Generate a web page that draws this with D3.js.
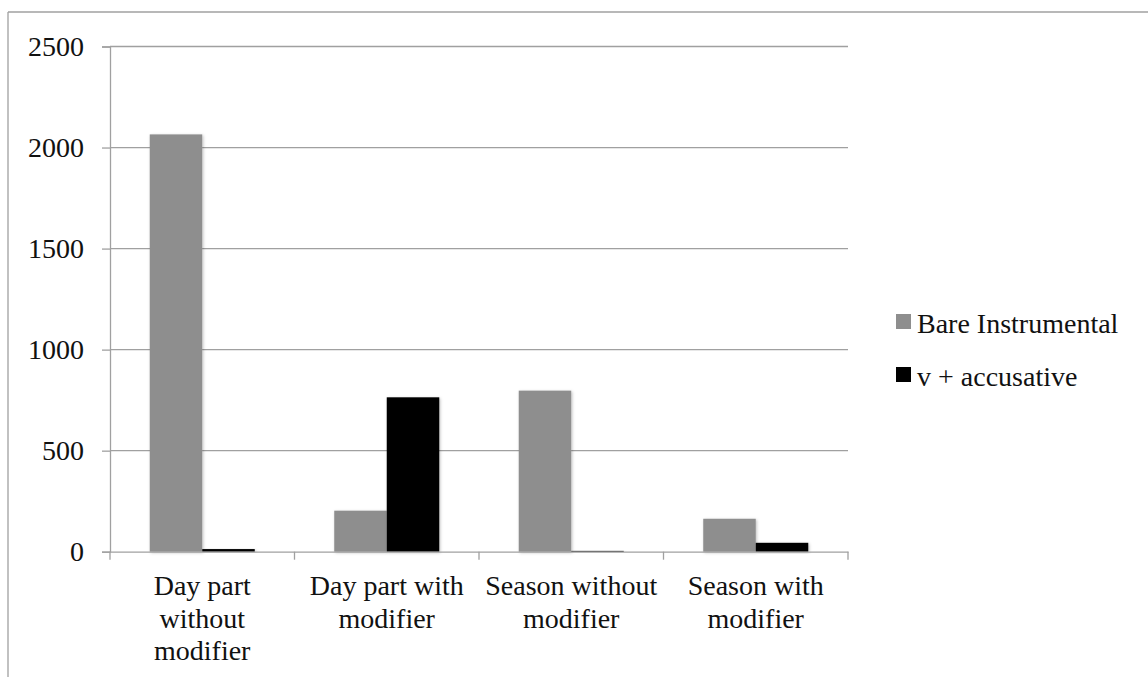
<!DOCTYPE html>
<html>
<head>
<meta charset="utf-8">
<script src="https://cdn.jsdelivr.net/npm/d3@7"></script>
<style>
	html, body
	{
		margin: 0;
		padding: 0;
		background: #ffffff;
	}
</style>
</head>
<body>
<svg id="chart" width="1148" height="677"></svg>
<script>
'use strict';

	// Chart data
	var arrayCategories = ['Day part without modifier','Day part with modifier','Season without modifier','Season with modifier'];
	var arrayCategoryLines = [
		['Day part','without','modifier'],
		['Day part with','modifier'],
		['Season without','modifier'],
		['Season with','modifier']];
	var arraySeries = ['Bare Instrumental','v + accusative'];
	var arrayBareInstrumental = [2065, 203, 797, 163];
	var arrayVAccusative = [13, 764, 4, 44];
	var arrayYTicks = [0, 500, 1000, 1500, 2000, 2500];

	var arrayColors = ['#8e8e8e','#000000'];
	var strLineColor = '#a0a0a0';
	var strFont = '"Liberation Serif", "Times New Roman", serif';
	var strTextColor = '#111111';

	var nLeft = 110;
	var nRight = 848;
	var nTop = 46.5;
	var nBottom = 551.7;

	var svg = d3.select('#chart');

	function StyleText(selection)
	{
		selection
			.style('font-family',strFont)
			.style('font-size','28px')
			.style('fill',strTextColor);
	}

	var defs = svg.append('defs');
	defs.append('filter')
		.attr('id','shadow')
		.attr('x','-20%').attr('y','-20%')
		.attr('width','140%').attr('height','140%')
		.append('feDropShadow')
			.attr('dx',1).attr('dy',1)
			.attr('stdDeviation',1.5)
			.attr('flood-color','#000')
			.attr('flood-opacity',0.25);

	// outer frame (only top and left edges are visible)
	svg.append('line')
		.attr('x1',8).attr('y1',12).attr('x2',1148).attr('y2',12)
		.attr('stroke',strLineColor).attr('stroke-width',1.3);
	svg.append('line')
		.attr('x1',8).attr('y1',12).attr('x2',8).attr('y2',677)
		.attr('stroke',strLineColor).attr('stroke-width',1.3);

	var scaleY = d3.scaleLinear()
		.domain([0, 2500])
		.range([nBottom, nTop]);

	var scaleX = d3.scaleBand()
		.domain(arrayCategories)
		.range([nLeft, nRight])
		.paddingInner(0)
		.paddingOuter(0);

	// two bars of ~52.5px inside a ~184.5px category
	var scaleSeries = d3.scaleBand()
		.domain(arraySeries)
		.range([0, scaleX.bandwidth()])
		.paddingInner(0)
		.paddingOuter(0.757);

	// grid lines
	svg.append('g')
		.selectAll('line')
		.data(arrayYTicks.filter(function(n) { return n > 0; }))
		.enter()
		.append('line')
			.attr('x1',nLeft).attr('x2',nRight)
			.attr('y1',function(n) { return scaleY(n); })
			.attr('y2',function(n) { return scaleY(n); })
			.attr('stroke',strLineColor)
			.attr('stroke-width',1.3);

	// y axis
	var axisY = d3.axisLeft(scaleY)
		.tickValues(arrayYTicks)
		.tickFormat(d3.format('d'))
		.tickSize(8)
		.tickPadding(18);
	var gAxisY = svg.append('g')
		.attr('transform','translate('+nLeft+',0)')
		.call(axisY);
	gAxisY.select('.domain').attr('stroke',strLineColor).attr('stroke-width',1.3);
	gAxisY.selectAll('.tick line').attr('stroke',strLineColor).attr('stroke-width',1.3);
	gAxisY.selectAll('.tick text').call(StyleText);

	// bars
	var arrayRows = arrayCategories.map(function(strCategory, i)
	{
		return {
			category: strCategory,
			values: [arrayBareInstrumental[i], arrayVAccusative[i]]
		};
	});

	var gGroups = svg.append('g')
		.selectAll('g')
		.data(arrayRows)
		.enter()
		.append('g')
			.attr('transform',function(d) { return 'translate('+scaleX(d.category)+',0)'; });

	gGroups.selectAll('rect')
		.data(function(d)
		{
			return d.values.map(function(nValue, j)
			{
				return { series: arraySeries[j], value: nValue, color: arrayColors[j] };
			});
		})
		.enter()
		.append('rect')
			.attr('x',function(d) { return scaleSeries(d.series); })
			.attr('width',scaleSeries.bandwidth())
			.attr('y',function(d) { return scaleY(d.value); })
			.attr('height',function(d) { return nBottom - scaleY(d.value); })
			.attr('fill',function(d) { return d.color; })
			.attr('filter','url(#shadow)');

	// x axis
	var axisX = d3.axisBottom(scaleX).tickSize(0).tickFormat('');
	var gAxisX = svg.append('g')
		.attr('transform','translate(0,'+nBottom+')')
		.call(axisX);
	gAxisX.select('.domain').attr('stroke',strLineColor).attr('stroke-width',1.3);

	// category boundary ticks
	var arrayBoundaries = arrayCategories.map(function(s) { return scaleX(s); }).concat([nRight]);
	svg.append('g')
		.selectAll('line')
		.data(arrayBoundaries)
		.enter()
		.append('line')
			.attr('x1',function(n) { return n; })
			.attr('x2',function(n) { return n; })
			.attr('y1',nBottom)
			.attr('y2',nBottom + 8)
			.attr('stroke',strLineColor)
			.attr('stroke-width',1.3);

	// category labels (wrapped as in the reference)
	var gLabels = svg.append('g')
		.selectAll('text')
		.data(arrayCategories)
		.enter()
		.append('text')
			.attr('text-anchor','middle')
			.attr('x',function(s) { return scaleX(s) + scaleX.bandwidth() / 2; })
			.attr('y',595)
			.call(StyleText);
	gLabels.selectAll('tspan')
		.data(function(s) { return arrayCategoryLines[arrayCategories.indexOf(s)]; })
		.enter()
		.append('tspan')
			.attr('x',function() { return d3.select(this.parentNode).attr('x'); })
			.attr('dy',function(s, i) { return i == 0 ? 0 : 32.5; })
			.text(function(s) { return s; });

	// legend
	var gLegend = svg.append('g')
		.selectAll('g')
		.data(arraySeries)
		.enter()
		.append('g')
			.attr('transform',function(s, i) { return 'translate(896,'+(314 + i * 53)+')'; });
	gLegend.append('rect')
		.attr('width',15)
		.attr('height',15)
		.attr('fill',function(s, i) { return arrayColors[i]; });
	gLegend.append('text')
		.attr('x',21)
		.attr('y',19)
		.call(StyleText)
		.text(function(s) { return s; });
</script>
</body>
</html>
